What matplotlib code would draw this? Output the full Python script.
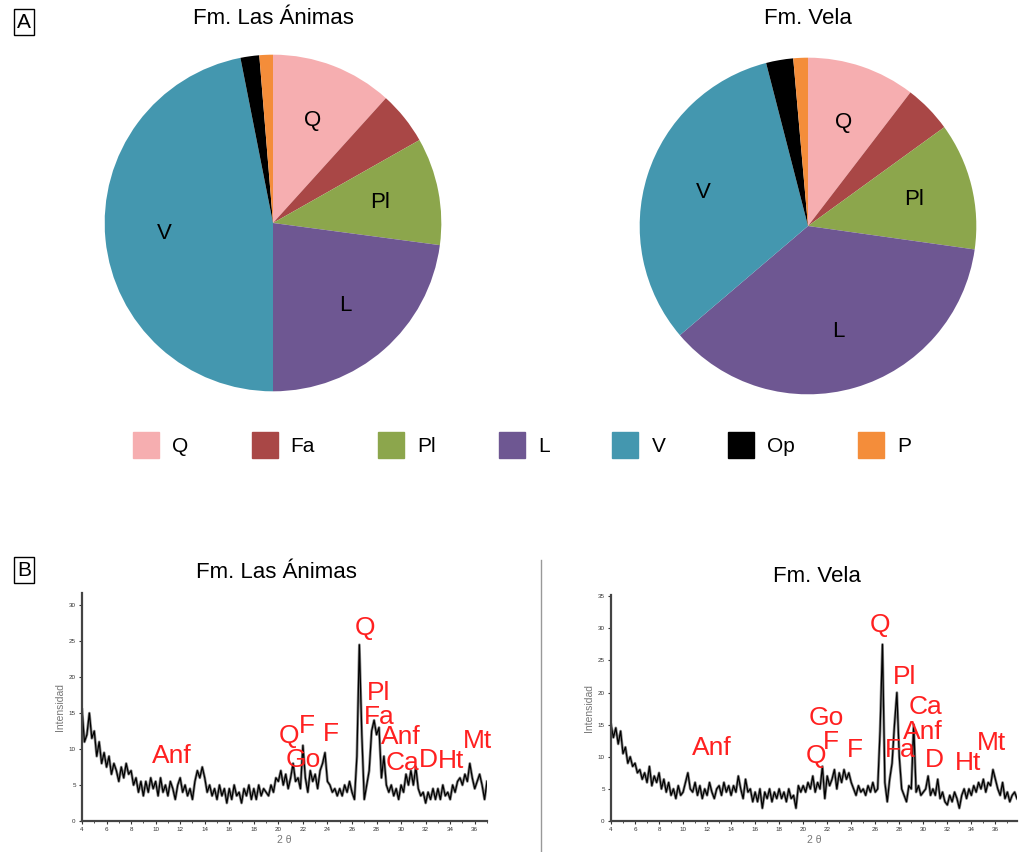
import numpy as np
import matplotlib
matplotlib.use("Agg")
import matplotlib.pyplot as plt
from matplotlib.lines import Line2D

plt.rcParams['font.family'] = ['Liberation Sans', 'DejaVu Sans']

# --- composicion modal (porcentajes) ---
componentes = ['Q', 'Fa', 'Pl', 'L', 'V', 'Op', 'P']
colores = ['#f6aeb0', '#a94746', '#8ca64c', '#6e5792', '#4497af', '#000000', '#f48d3a']
animas_pct = [11.7, 5.1, 10.3, 22.9, 46.9, 1.8, 1.3]
vela_pct = [10.4, 4.6, 12.2, 36.5, 32.2, 2.6, 1.4]
etiquetas_pie = ['Q', '', 'Pl', 'L', 'V', '', '']

# --- difractogramas (2 theta, intensidad) ---
animas_2t = np.arange(4.0, 37.01, 0.2)
animas_int = [
    15.5, 11, 12, 15, 11.5,
    12.5, 9, 11, 8, 9.5,
    7.5, 9, 6.5, 8, 7,
    5.5, 7.5, 6, 8, 6.5,
    7, 5, 6, 4, 5.5,
    3.5, 5.5, 4, 6, 4.5,
    5.5, 3.5, 6, 4, 5,
    3.5, 5.5, 4.5, 3, 5,
    6, 4, 5, 3.5, 4.5,
    3, 5.5, 7, 6, 7.5,
    6, 4, 5, 3.5, 4.5,
    3, 5, 3.5, 4.5, 2.5,
    4.5, 3, 5, 3.5, 4,
    2.5, 4.5, 3.5, 5, 3,
    4.5, 3, 5, 3.5, 4.5,
    4, 3.5, 5, 4, 6,
    5.5, 7, 5, 6.5, 4.5,
    6, 8, 5.5, 6, 4.5,
    10.5, 6, 4, 7, 5.5,
    6.5, 4.5, 7, 8, 9.5,
    5.5, 5, 4, 4.5, 3.5,
    4.5, 3.5, 5, 4, 5.5,
    4, 3, 9, 24.5, 12,
    3, 5, 7, 12.5, 14,
    12, 13, 6, 9, 5,
    4, 5, 3.5, 4.5, 3,
    5, 4, 6.5, 5, 7,
    5, 7.5, 4.5, 3.5, 4,
    2.5, 4, 3, 4.5, 3,
    4.5, 3, 5, 3.5, 4,
    3, 5, 4, 5.5, 6,
    5, 6.5, 5.5, 8, 6,
    4.5, 5.5, 6.5, 5, 3,
    5.5,
]

vela_2t = np.arange(4.0, 37.81, 0.2)
vela_int = [
    15, 13, 14.5, 12, 14,
    10.5, 11.5, 9, 10, 8.5,
    9, 7.5, 8, 6.5, 7.5,
    6, 8.5, 5.5, 7, 6,
    7.5, 5, 6.5, 4.5, 6,
    4, 5, 3.5, 5.5, 4,
    4.5, 6, 7.5, 5, 4.5,
    6, 4, 5.5, 3.5, 5,
    4, 6, 4.5, 3.5, 5,
    5.5, 4, 6, 4.5, 5.5,
    4, 5.5, 4.5, 7, 5,
    3.5, 6.5, 4.5, 5, 3,
    4.5, 3, 5, 2, 4.5,
    3.5, 5, 3, 4.5, 3.5,
    5, 3.5, 4.5, 3, 5,
    3.5, 4, 2, 5.5, 4.5,
    5.5, 4.5, 6, 5, 7,
    4.5, 6, 5, 8.5, 3.5,
    7, 5.5, 6.5, 8, 5,
    7.5, 6, 8, 6.5, 7.5,
    6, 5, 4, 5.5, 4.5,
    5, 4, 5.5, 4.5, 6,
    4.5, 5, 14, 27.5, 6,
    3, 6.5, 9, 15, 20,
    10, 5, 4, 3, 5.5,
    5, 15, 4.5, 5.5, 4,
    4.5, 5, 7, 4, 5,
    4, 6.5, 3.5, 4.5, 3,
    2.5, 4, 3, 4.5, 3.5,
    2, 4, 5, 3.5, 5,
    4, 5.5, 4.5, 6, 5,
    6.5, 4.5, 6, 5.5, 8,
    6.5, 5, 4, 6, 3.5,
    4.5, 3, 4, 4.5, 3.5,
]

# etiquetas de picos (mineral, 2theta, intensidad)
picos_animas = [('Q', 27.1, 26.8), ('Pl', 28.2, 17.8), ('Fa', 28.2, 14.4),
                ('Anf', 30.0, 11.7), ('Ca', 30.1, 8.1), ('D', 32.2, 8.5),
                ('Ht', 34.1, 8.3), ('Mt', 36.2, 11.1), ('Q', 20.9, 11.8),
                ('F', 22.35, 13.2), ('Go', 22.0, 8.5), ('F', 24.3, 12.1),
                ('Anf', 11.3, 9.0)]
picos_vela = [('Q', 26.4, 30.6), ('Pl', 28.4, 22.5), ('Ca', 30.2, 17.7),
              ('Anf', 30.0, 13.9), ('Fa', 28.1, 11.0), ('D', 30.9, 9.5),
              ('Ht', 33.7, 9.1), ('Mt', 35.7, 12.1), ('Go', 21.9, 16.0),
              ('F', 22.3, 12.3), ('Q', 21.1, 10.1), ('F', 24.3, 11.0),
              ('Anf', 12.4, 11.3)]

W, H = 1020, 852
fig = plt.figure(figsize=(W / 100, H / 100), dpi=100)


def px_axes(x0, y0, w, h):
    # rectangulo en pixeles (origen arriba-izquierda)
    return fig.add_axes([x0 / W, 1 - (y0 + h) / H, w / W, h / H])


# --- Panel A: tortas ---
for pct, cx, cy, titulo in [(animas_pct, 273, 223, 'Fm. Las Ánimas'),
                            (vela_pct, 808, 226, 'Fm. Vela')]:
    ax = px_axes(cx - 170, cy - 170, 340, 340)
    wedges, texts = ax.pie(pct, colors=colores, labels=etiquetas_pie,
                           startangle=90, counterclock=False, radius=1,
                           labeldistance=0.65,
                           textprops={'fontsize': 16, 'color': 'black'})
    for t in texts:
        t.set_ha('center')
        t.set_va('center')
    ax.set_xlim(-1.01, 1.01)
    ax.set_ylim(-1.01, 1.01)
    fig.text(cx / W, 1 - 18 / H, titulo, ha='center', va='center', fontsize=16)

handles = [Line2D([], [], marker='s', ls='', markersize=19, color=c) for c in colores]
fig.legend(handles, componentes, loc='center', bbox_to_anchor=(522 / W, 1 - 447 / H),
           ncol=7, frameon=False, fontsize=15, handlelength=1.3,
           handletextpad=0.6, columnspacing=3.0)

# --- Panel B: DRX ---
for (x, y, picos, cuadro, xmax, ymax, yt, titulo, tx, ty) in [
        (animas_2t, animas_int, picos_animas, (82, 593, 405, 228), 36.9, 31.7,
         range(0, 31, 5), 'Fm. Las Ánimas', 276, 572),
        (vela_2t, vela_int, picos_vela, (611, 595, 406, 226), 37.8, 35.2,
         range(0, 36, 5), 'Fm. Vela', 817, 577)]:
    ax = px_axes(*cuadro)
    ax.plot(x, y, color='#8a8a8a', lw=2.0)
    ax.plot(x, y, color='black', lw=0.9)
    ax.set_xlim(4, xmax)
    ax.set_ylim(0, ymax)
    ax.set_xticks(range(4, 37, 2))
    ax.set_xticks(range(4, 38), minor=True)
    ax.set_yticks(list(yt))
    ax.tick_params(labelsize=4.5, length=2.5, width=0.8, colors='#333333', pad=2)
    ax.tick_params(which='minor', length=1.5, width=0.6, colors='#333333')
    for s in ['top', 'right']:
        ax.spines[s].set_visible(False)
    for s in ['left', 'bottom']:
        ax.spines[s].set_linewidth(1.6)
        ax.spines[s].set_color('#444444')
    ax.set_xlabel('2 θ', fontsize=7.5, color='#777777', labelpad=2)
    ax.set_ylabel('Intensidad', fontsize=7.5, color='#777777', labelpad=3)
    for nombre, px, py in picos:
        ax.text(px, py, nombre, color='#ff2020', fontsize=19, ha='center', va='center')
    fig.text(tx / W, 1 - ty / H, titulo, ha='center', va='center', fontsize=16)

# separador vertical
fig.add_artist(Line2D([541 / W, 541 / W], [1 - 560 / H, 0], color='#999999', lw=1))

# letras de panel
for letra, yy in [('A', 22), ('B', 570)]:
    fig.text(24 / W, 1 - yy / H, letra, ha='center', va='center', fontsize=15,
             bbox=dict(boxstyle='square,pad=0.15', fc='white', ec='black', lw=1))

fig.savefig('out.png', dpi=100)
